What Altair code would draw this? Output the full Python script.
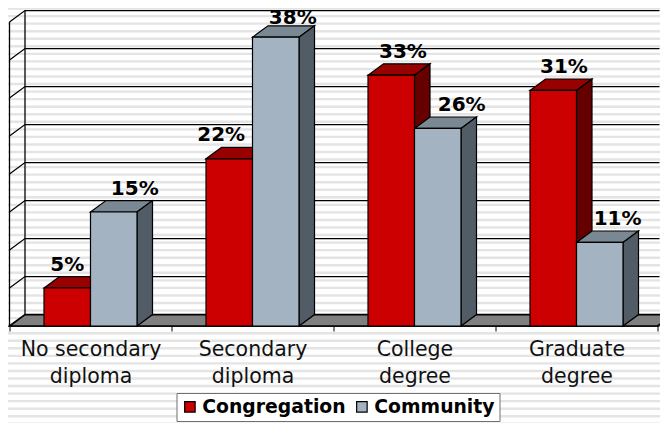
import altair as alt
import numpy as np
import pandas as pd

categories = ["No secondary|diploma", "Secondary|diploma", "College|degree", "Graduate|degree"]
congregation = [5, 22, 33, 31]
community = [15, 38, 26, 11]
grid_levels = [5, 10, 15, 20, 25, 30, 35, 40]
# horizontal nudge of each value label, in category widths
label_shift_congregation = [0.0, -0.05, 0.072, 0.066]
label_shift_community = [0.13, 0.105, 0.148, 0.11]

RED, RED_TOP, RED_SIDE = "#CC0000", "#990000", "#660000"
BLUE, BLUE_TOP, BLUE_SIDE = "#A3B3C1", "#7A8894", "#525C66"
FONT = "DejaVu Sans"

# 3-D look: depth expressed in axis units
DX, DY = 0.0957, 1.5
BAR = 46.5 / 162
PLOT_W, PLOT_H = 650, 316
X_MAX, Y_MAX = PLOT_W / 162, PLOT_H / 7.6
x_scale = alt.Scale(domain=[0, X_MAX], nice=False, zero=False)
y_scale = alt.Scale(domain=[0, Y_MAX], nice=False, zero=False)
X = lambda f="x": alt.X(f"{f}:Q", scale=x_scale, title=None)
Y = lambda f="y": alt.Y(f"{f}:Q", scale=y_scale, axis=None, stack=None, title=None)

# background stripes
stripe_df = pd.DataFrame({"y": (326 - (1 + 7.55 * np.arange(0, 58))) / 7.6})
stripes = alt.Chart(stripe_df).mark_rule(color="#E4E4E4", strokeWidth=2.4).encode(
    y=Y(), x=alt.value(-4), x2=alt.value(662)
)

# floor
floor_df = pd.DataFrame({
    "x": [0, DX, 4, 4 + DX],
    "y": [0, DY, DY, DY],
    "y2": [0, 0, 0, DY],
})
floor = alt.Chart(floor_df).mark_area(orient="vertical", color="#808080", stroke="black", strokeWidth=1.6).encode(
    x=X(), y=Y(), y2="y2:Q"
)

# wall grid
rows = []
for i, v in enumerate(grid_levels):
    rows += [
        {"id": f"g{i}", "o": 0, "x": 0, "y": v},
        {"id": f"g{i}", "o": 1, "x": DX, "y": v + DY},
        {"id": f"g{i}", "o": 2, "x": X_MAX, "y": v + DY},
    ]
rows += [
    {"id": "front", "o": 0, "x": 0, "y": 0},
    {"id": "front", "o": 1, "x": 0, "y": grid_levels[-1]},
    {"id": "back", "o": 0, "x": DX, "y": DY},
    {"id": "back", "o": 1, "x": DX, "y": grid_levels[-1] + DY},
    {"id": "base", "o": 0, "x": 0, "y": 0},
    {"id": "base", "o": 1, "x": X_MAX, "y": 0},
]
grid = alt.Chart(pd.DataFrame(rows)).mark_line(color="black", strokeWidth=1.3).encode(
    x=X(), y=Y(), detail="id:N", order="o:Q"
)


def faces(values, start, top, side, tag):
    out = []
    for i, v in enumerate(values):
        a = i + start
        b = a + BAR
        out += [
            {"id": f"{tag}t{i}", "c": top, "x": a, "y": v, "y2": v},
            {"id": f"{tag}t{i}", "c": top, "x": a + DX, "y": v + DY, "y2": v},
            {"id": f"{tag}t{i}", "c": top, "x": b, "y": v + DY, "y2": v},
            {"id": f"{tag}t{i}", "c": top, "x": b + DX, "y": v + DY, "y2": v + DY},
            {"id": f"{tag}s{i}", "c": side, "x": b, "y": v, "y2": 0},
            {"id": f"{tag}s{i}", "c": side, "x": b + DX, "y": v + DY, "y2": DY},
        ]
    return pd.DataFrame(out)


START_A = 0.5 - BAR
START_B = 0.5


def face_layer(df):
    return alt.Chart(df).mark_area(orient="vertical", stroke="black", strokeWidth=1.2).encode(
        x=X(), y=Y(), y2="y2:Q", detail="id:N",
        color=alt.Color("c:N", scale=None, legend=None),
    )


red_faces = face_layer(faces(congregation, START_A, RED_TOP, RED_SIDE, "r"))
blue_faces = face_layer(faces(community, START_B, BLUE_TOP, BLUE_SIDE, "b"))

front_rows = []
for i, v in enumerate(congregation):
    front_rows.append({"s": "Congregation", "x": i + START_A, "x2": i + START_A + BAR, "y": v, "y2": 0})
for i, v in enumerate(community):
    front_rows.append({"s": "Community", "x": i + START_B, "x2": i + START_B + BAR, "y": v, "y2": 0})
fronts = alt.Chart(pd.DataFrame(front_rows)).mark_rect(stroke="black", strokeWidth=1.2).encode(
    x=X(), x2="x2:Q", y=Y(), y2="y2:Q",
    color=alt.Color(
        "s:N",
        scale=alt.Scale(domain=["Congregation", "Community"], range=[RED, BLUE]),
        legend=alt.Legend(
            title=None, orient="none", legendX=167, legendY=383, direction="horizontal",
            symbolType="square", symbolSize=110, symbolStrokeColor="black", symbolStrokeWidth=1.2,
            labelFont=FONT, labelFontSize=18.8, labelFontWeight="bold", labelColor="black",
            fillColor="white", strokeColor="#707070", padding=4, columnPadding=6, labelOffset=3,
        ),
    ),
)

label_rows = []
for i, (v, s) in enumerate(zip(congregation, label_shift_congregation)):
    label_rows.append({"x": i + START_A + BAR / 2 + s, "y": min(v + 2.3, 39.8), "t": f"{v}%"})
for i, (v, s) in enumerate(zip(community, label_shift_community)):
    label_rows.append({"x": i + START_B + BAR / 2 + s, "y": min(v + 2.3, 39.8), "t": f"{v}%"})
labels = alt.Chart(pd.DataFrame(label_rows)).mark_text(
    font=FONT, fontSize=20, fontWeight="bold", color="black", align="center", baseline="alphabetic"
).encode(x=X(), y=Y(), text="t:N")

cat_expr = ""
for i, c in enumerate(categories):
    parts = c.split("|")
    cat_expr += f"datum.value=={i}.5?['{parts[0]}','{parts[1]}']:"
cat_expr += "''"

axis_chart = alt.Chart(pd.DataFrame({"x": [0, 4], "y": [0, 0]})).mark_point(opacity=0).encode(
    x=alt.X("x:Q", scale=x_scale, title=None, axis=alt.Axis(
        values=[0, 0.5, 1, 1.5, 2, 2.5, 3, 3.5, 4], grid=False, domain=False, zindex=1,
        tickColor="black", tickSize=5, tickWidth=1,
        tickOpacity={"condition": {"test": "datum.value % 1 == 0", "value": 1}, "value": 0},
        labelExpr=cat_expr, labelFont=FONT, labelFontSize=20.5, labelColor="#111111",
        labelLineHeight=27, labelPadding=8, labelOverlap=False, labelFlush=False, labelBound=False,
        labelAngle=0, labelAlign="center", labelBaseline="top",
    )),
    y=Y(),
)

chart = alt.layer(
    stripes, grid, floor, red_faces, blue_faces, fronts, labels, axis_chart
).properties(
    width=PLOT_W, height=PLOT_H,
    padding={"left": 1.5, "top": 2, "right": 0.5, "bottom": 97},
    autosize=alt.AutoSizeParams(type="none"),
    background="white",
).resolve_scale(color="independent").configure_view(stroke=None)

chart.save("out.html", embed_options={"renderer": "svg", "actions": False})
